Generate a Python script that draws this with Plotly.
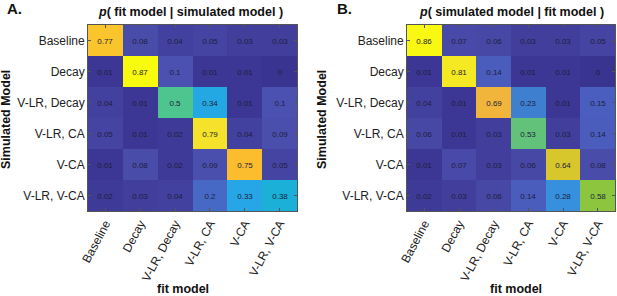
import plotly.graph_objects as go

models = ["Baseline", "Decay", "V-LR, Decay", "V-LR, CA", "V-CA", "V-LR, V-CA"]

# p(fit model | simulated model): rows = simulated model, cols = fit model
panel_a = [
    [0.77, 0.08, 0.04, 0.05, 0.03, 0.03],
    [0.01, 0.87, 0.10, 0.01, 0.01, 0.00],
    [0.04, 0.01, 0.50, 0.34, 0.01, 0.10],
    [0.05, 0.01, 0.02, 0.79, 0.04, 0.09],
    [0.01, 0.08, 0.02, 0.09, 0.75, 0.05],
    [0.02, 0.03, 0.04, 0.20, 0.33, 0.38],
]

# p(simulated model | fit model)
panel_b = [
    [0.86, 0.07, 0.06, 0.03, 0.03, 0.05],
    [0.01, 0.81, 0.14, 0.01, 0.01, 0.00],
    [0.04, 0.01, 0.69, 0.23, 0.01, 0.15],
    [0.06, 0.01, 0.03, 0.53, 0.03, 0.14],
    [0.01, 0.07, 0.03, 0.06, 0.64, 0.08],
    [0.02, 0.03, 0.06, 0.14, 0.28, 0.58],
]

ZMAX = 0.87
# parula-like colour map, as rendered in the reference
cmap_pts = [
    (0.00, "#3a3491"), (0.01, "#3c3794"), (0.04, "#4341a0"), (0.08, "#4a4caa"),
    (0.14, "#4a5cbc"), (0.20, "#4669c6"), (0.23, "#3f7fd0"), (0.28, "#3690de"),
    (0.33, "#26a6e6"), (0.38, "#1bb0d8"), (0.50, "#4ec48f"), (0.53, "#62c27a"),
    (0.58, "#8cc63e"), (0.64, "#d7c62c"), (0.69, "#f0b53a"), (0.75, "#fbbd2e"),
    (0.77, "#f9c42c"), (0.79, "#f4e32a"), (0.87, "#f9fb0e"),
]
colorscale = [[v / ZMAX, c] for v, c in cmap_pts]

FONT = "Liberation Sans, Arial, Helvetica, sans-serif"

def fmt(v):
    return f"{v:g}"

fig = go.Figure()
for i, data in enumerate([panel_a, panel_b]):
    fig.add_trace(go.Heatmap(
        z=data, x=models, y=models,
        text=[[fmt(v) for v in row] for row in data],
        texttemplate="%{text}",
        textfont=dict(size=8, color="#1e1e3c", family=FONT),
        colorscale=colorscale, zmin=0, zmax=ZMAX, showscale=False,
        xaxis="x" if i == 0 else "x2", yaxis="y" if i == 0 else "y2",
    ))

W, H = 617, 296
ydom = [(H - 211) / H, (H - 25) / H]
xdomA = [88 / W, 297 / W]
xdomB = [407 / W, 615 / W]

axis_common = dict(
    showline=True, linecolor="#555", linewidth=0.8, mirror="ticks",
    ticks="inside", ticklen=3, tickcolor="#555", showgrid=False, zeroline=False,
    automargin=False, tickfont=dict(size=12, family=FONT, color="#222"),
)

fig.update_layout(
    width=W, height=H,
    margin=dict(l=0, r=0, t=0, b=0),
    paper_bgcolor="white", plot_bgcolor="white",
    font=dict(family=FONT, color="#111"),
    xaxis=dict(domain=xdomA, anchor="y", tickangle=-62, **axis_common),
    yaxis=dict(domain=ydom, anchor="x", autorange="reversed", **axis_common),
    xaxis2=dict(domain=xdomB, anchor="y2", tickangle=-62, **axis_common),
    yaxis2=dict(domain=ydom, anchor="x2", autorange="reversed", **axis_common),
)

ann = []
def add(text, x, y, size, angle=0, bold=True):
    ann.append(dict(text=f"<b>{text}</b>" if bold else text, x=x / W, y=1 - y / H,
                    xref="paper", yref="paper", showarrow=False, textangle=angle,
                    xanchor="center", yanchor="middle",
                    font=dict(size=size, family=FONT, color="#111")))

add("A.", 14, 9, 15)
add("B.", 344, 9, 15)
add("<i>p</i>( fit model | simulated model )", 190, 12, 12.5)
add("<i>p</i>( simulated model | fit model )", 511, 12, 12.5)
add("Simulated Model", 6, 120, 12.5, angle=-90)
add("Simulated Model", 322, 120, 12.5, angle=-90)
add("fit model", 183, 289, 12.5)
add("fit model", 516, 289, 12.5)
fig.update_layout(annotations=ann)

fig.write_html("out.html", config={"displayModeBar": False},
               post_script="document.body.style.margin='0';document.body.style.overflow='hidden';")
